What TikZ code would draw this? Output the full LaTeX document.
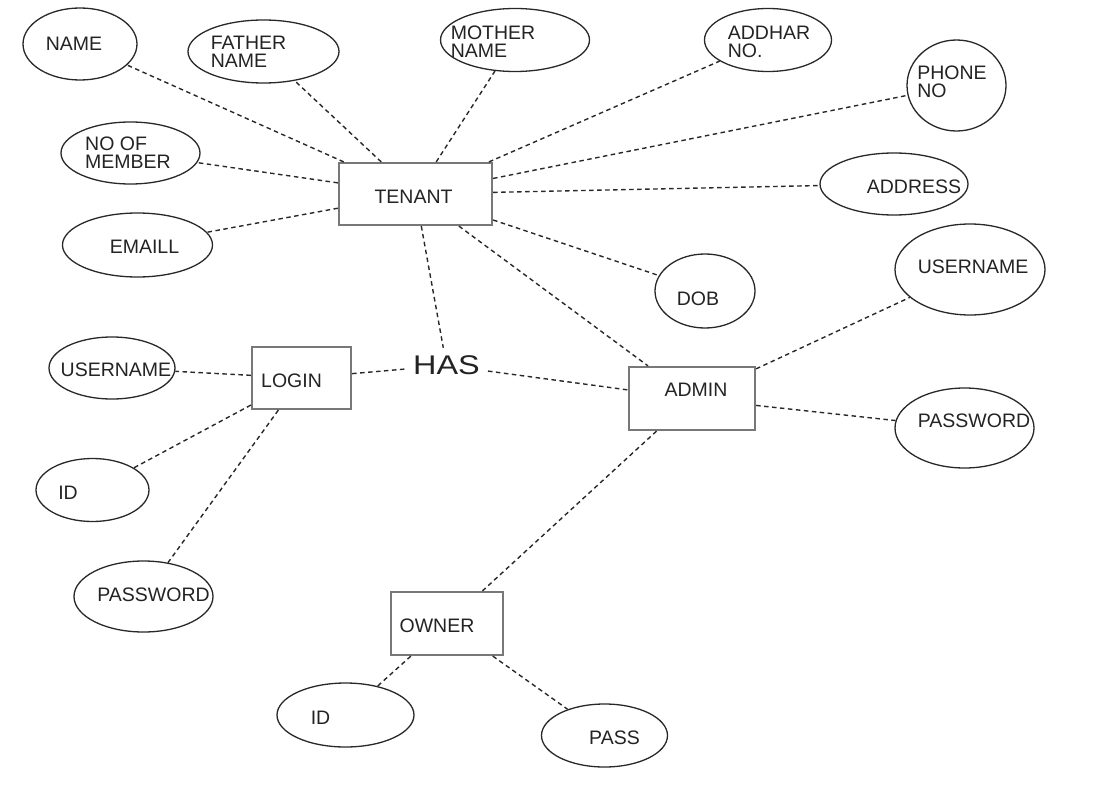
\documentclass[tikz,border=0pt]{standalone}
\usepackage{fontspec}
\setmainfont{Liberation Sans}
\usetikzlibrary{shapes.geometric}

\begin{document}
\begin{tikzpicture}[x=1pt,y=-1pt,
  attr/.style={draw=linegray, line width=1.3pt, ellipse, inner sep=0pt},
  entity/.style={draw=boxgray, line width=2.2pt, rectangle, inner sep=0pt},
  txt/.style={text=textgray, font=\fontsize{19.5}{18}\selectfont, align=left, inner sep=0pt},
  link/.style={draw=linegray, line width=1.4pt, dash pattern=on 4.5pt off 3.5pt}]
\definecolor{linegray}{RGB}{40,40,40}
\definecolor{boxgray}{RGB}{120,120,120}
\definecolor{textgray}{RGB}{35,35,35}
\useasboundingbox (0,0) rectangle (1110,805);
% entities
\node[entity, minimum width=153, minimum height=62, label={[txt, xshift=-2pt, yshift=-2.5pt]center:TENANT}] (tenant) at (415.5,194) {};
\node[entity, minimum width=99, minimum height=62, label={[txt, xshift=-10pt, yshift=-2.5pt]center:LOGIN}] (login) at (301.5,378) {};
\node[entity, minimum width=126, minimum height=63, label={[txt, xshift=4pt, yshift=8.5pt]center:ADMIN}] (admin) at (692,398.5) {};
\node[entity, minimum width=112, minimum height=63, label={[txt, xshift=-10pt, yshift=-2.5pt]center:OWNER}] (owner) at (447,623.5) {};
\node[text=textgray, font=\fontsize{27}{30}\selectfont, inner sep=8pt] (has) at (446.5,365.5) {\scalebox{1.2}[1]{HAS}};
% tenant attributes
\node[attr, minimum width=114, minimum height=72, label={[txt, xshift=-6pt]center:NAME}] (name) at (80,44) {};
\node[attr, minimum width=151, minimum height=63, label={[txt, xshift=-15pt]center:FATHER\\NAME}] (father) at (263.5,51.5) {};
\node[attr, minimum width=149, minimum height=63, label={[txt, xshift=-22pt, yshift=-2pt]center:MOTHER\\NAME}] (mother) at (515,40) {};
\node[attr, minimum width=127, minimum height=63, label={[txt, xshift=1pt, yshift=-1.5pt]center:ADDHAR\\NO.}] (addhar) at (768,40) {};
\node[attr, minimum width=99, minimum height=91, label={[txt, xshift=-4.5pt, yshift=3.5pt]center:PHONE\\NO}] (phone) at (956.5,85.5) {};
\node[attr, minimum width=148, minimum height=62, label={[txt, xshift=20pt, yshift=-3pt]center:ADDRESS}] (address) at (894,184) {};
\node[attr, minimum width=139, minimum height=62, label={[txt, xshift=-2.5pt]center:NO OF\\MEMBER}] (member) at (130.5,153) {};
\node[attr, minimum width=150, minimum height=64, label={[txt, xshift=7pt, yshift=-2pt]center:EMAILL}] (email) at (137.5,245) {};
\node[attr, minimum width=100, minimum height=74, label={[txt, xshift=-7pt, yshift=-7.5pt]center:DOB}] (dob) at (705,291) {};
% admin attributes
\node[attr, minimum width=150, minimum height=91, label={[txt, xshift=3pt, yshift=2.5pt]center:USERNAME}] (admuser) at (970,269.5) {};
\node[attr, minimum width=139, minimum height=80, label={[txt, xshift=9.5pt, yshift=7pt]center:PASSWORD}] (admpass) at (964.5,428) {};
% login attributes
\node[attr, minimum width=126, minimum height=62, label={[txt, xshift=4pt, yshift=-2pt]center:USERNAME}] (loguser) at (112,368) {};
\node[attr, minimum width=113, minimum height=63, label={[txt, xshift=-24.5pt, yshift=-3pt]center:ID}] (logid) at (92.5,490) {};
\node[attr, minimum width=139, minimum height=71, label={[txt, xshift=10pt, yshift=1.5pt]center:PASSWORD}] (logpass) at (143.5,596.5) {};
% owner attributes
\node[attr, minimum width=137, minimum height=64, label={[txt, xshift=-25pt, yshift=-2.5pt]center:ID}] (ownid) at (345.5,715) {};
\node[attr, minimum width=126, minimum height=63, label={[txt, xshift=10pt, yshift=-2pt]center:PASS}] (pass) at (604.5,735.5) {};
% connectors
\draw[link] (tenant) -- (name);
\draw[link] (tenant) -- (father);
\draw[link] (tenant) -- (mother);
\draw[link] (tenant) -- (addhar);
\draw[link] (tenant) -- (phone);
\draw[link] (tenant) -- (address);
\draw[link] (tenant) -- (member);
\draw[link] (tenant) -- (email);
\draw[link] (tenant) -- (dob);
\draw[link] (tenant) -- (admin);
\draw[link] (tenant) -- (has);
\draw[link] (login) -- (has);
\draw[link] (has) -- (admin);
\draw[link] (login) -- (loguser);
\draw[link] (login) -- (logid);
\draw[link] (login) -- (logpass);
\draw[link] (admin) -- (admuser);
\draw[link] (admin) -- (admpass);
\draw[link] (admin) -- (owner);
\draw[link] (owner) -- (ownid);
\draw[link] (owner) -- (pass);
\end{tikzpicture}
\end{document}
